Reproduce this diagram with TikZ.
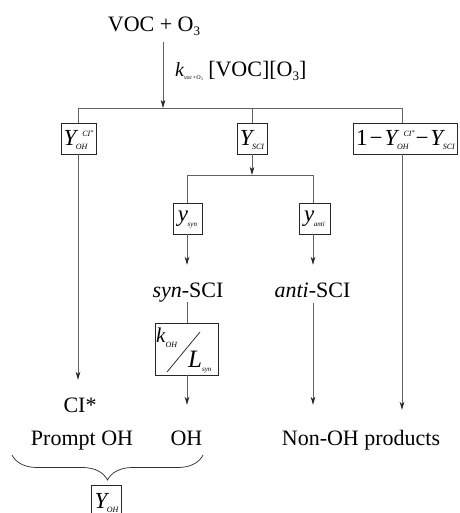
\documentclass[tikz,border=0pt]{standalone}
\usepackage{fontspec}
\setmainfont{Liberation Serif}
\usetikzlibrary{arrows.meta,decorations.pathreplacing}
\newcommand\fsz[1]{\fontsize{#1}{#1}\selectfont}
% scripts: #1 lowering of sub, #2 sup, #3 sub
\newcommand\ssx[3][4pt]{%
 \begingroup
 \setbox0\hbox{\kern6pt\fsz{8}\itshape #2}%
 \setbox2\hbox{\kern-0.5pt\fsz{8}\itshape #3}%
 \ifdim\wd0>\wd2 \dimen0=\wd0 \else \dimen0=\wd2 \fi
 \hbox to \dimen0{\rlap{\raise9pt\box0}\lower#1\box2\hfil}%
 \endgroup}
\newcommand\cistar{CI\raise2.5pt\hbox{\fsz{6}*}}
\begin{document}
\begin{tikzpicture}[x=1pt,y=-1pt,
  ln/.style={draw=black!62,line width=0.75pt},
  arr/.style={ln,-{Stealth[length=8pt,width=4.6pt,inset=2.2pt,color=black!85]}},
  bx/.style={draw=black!85,line width=0.8pt,inner xsep=1pt,inner ysep=0pt,anchor=base,text height=23pt,text depth=8pt},
  sbx/.style={bx,text height=18pt,text depth=13pt},
  txt/.style={inner sep=0pt,text height=15pt,text depth=5pt,anchor=base,font=\fsz{22}}]
\useasboundingbox (0,0) rectangle (459,513);
% top
\node[txt] (voc) at (154,32) {VOC + O\lower4pt\hbox{\fsz{13}3}};
\node[txt,anchor=base west] (rate) at (175,77) {{\fsz{20}\itshape k}\lower3pt\hbox{\fsz{6}\itshape voc+O\lower1pt\hbox{\fsz{4}3}}\ [VOC][O\lower4pt\hbox{\fsz{13}3}]};
\coordinate (top) at (163,108);
\coordinate (hl) at (78,108);
\coordinate (hr) at (402,108);
% first row of boxes
\node[bx,minimum width=35pt] (b1) at (78.5,146) {{\fsz{23}\itshape Y}\ssx{\cistar}{OH}};
\node[bx,minimum width=30pt] (b2) at (252,146) {{\fsz{23}\itshape Y}\ssx{}{SCI}};
\node[bx,minimum width=104pt] (b3) at (405.5,146) {{\fsz{23}1\kern2pt−\kern2pt\itshape Y}\ssx{\cistar}{OH}{\fsz{23}\kern1pt−\kern2pt\itshape Y}\ssx{}{SCI}};
% second split
\coordinate (split) at (252,175);
\coordinate (sl) at (187,175);
\coordinate (sr) at (313,175);
\node[sbx,minimum width=29pt] (ys) at (187.5,221) {{\fsz{23}\itshape y}\ssx[5pt]{}{\fsz{7}syn}};
\node[sbx,minimum width=31pt] (ya) at (314.5,221) {{\fsz{23}\itshape y}\ssx[5pt]{}{\fsz{7}anti}};
\node[txt] (synsci) at (188,297) {{\itshape syn}-SCI};
\node[txt] (antisci) at (312.5,297) {{\itshape anti}-SCI};
% k/L box
\node[draw=black!85,line width=0.8pt,minimum width=63pt,minimum height=52pt,inner sep=0pt] (kl) at (186.5,349) {};
\node[inner sep=0pt,anchor=base west] (kk) at (156,342) {{\fsz{21}\itshape k}\lower5pt\hbox{\fsz{8}\itshape OH}};
\node[inner sep=0pt,anchor=base west] (ll) at (188,367) {{\fsz{25}\itshape L}\lower4pt\hbox{\fsz{7}\itshape syn}};
\draw[draw=black!85,line width=0.75pt] (167,372) -- (200,332);
% bottom texts
\node[txt] (ci) at (80,412) {CI*};
\node[txt] (prompt) at (82,445) {Prompt OH};
\node[txt] (oh) at (186.5,445) {OH};
\node[txt] (nonoh) at (361,445) {Non-OH products};
\coordinate (bl) at (12,455);
\coordinate (br) at (203,455);
\node[bx,minimum width=30pt] (b4) at (106.5,508) {{\fsz{23}\itshape Y}\ssx{}{OH}};
% connectors
\draw[arr,shorten <=5pt] (voc.south -| top) -- (top);
\draw[ln] (hl) -- (hr);
\draw[ln] (hl) -- (b1.north -| hl);
\draw[ln] (b2.north |- hl) -- (b2.north);
\draw[ln] (hr) -- (b3.north -| hr);
\draw[arr,shorten >=17pt] (b1.south -| hl) -- (hl |- ci.north);
\draw[arr] (b2.south) -- (split);
\draw[ln] (sl) -- (sr);
\draw[ln] (sl) -- (ys.north -| sl);
\draw[ln] (sr) -- (ya.north -| sr);
\draw[arr,shorten >=17pt] (ys.south -| sl) -- (sl |- synsci.north);
\draw[arr,shorten >=17pt] (ya.south -| sr) -- (sr |- antisci.north);
\draw[ln] (sl |- synsci.south) -- (sl |- kl.north);
\draw[arr,shorten >=25pt] (sl |- kl.south) -- (sl |- oh.north);
\draw[arr,shorten >=25pt,shorten <=1pt] (sr |- antisci.south) -- (sr |- nonoh.north);
\draw[arr,shorten >=20pt] (b3.south -| hr) -- (hr |- nonoh.north);
\draw[ln,draw=black!80,decorate,decoration={brace,mirror,amplitude=25pt}] (bl) -- (br);
\end{tikzpicture}
\end{document}
